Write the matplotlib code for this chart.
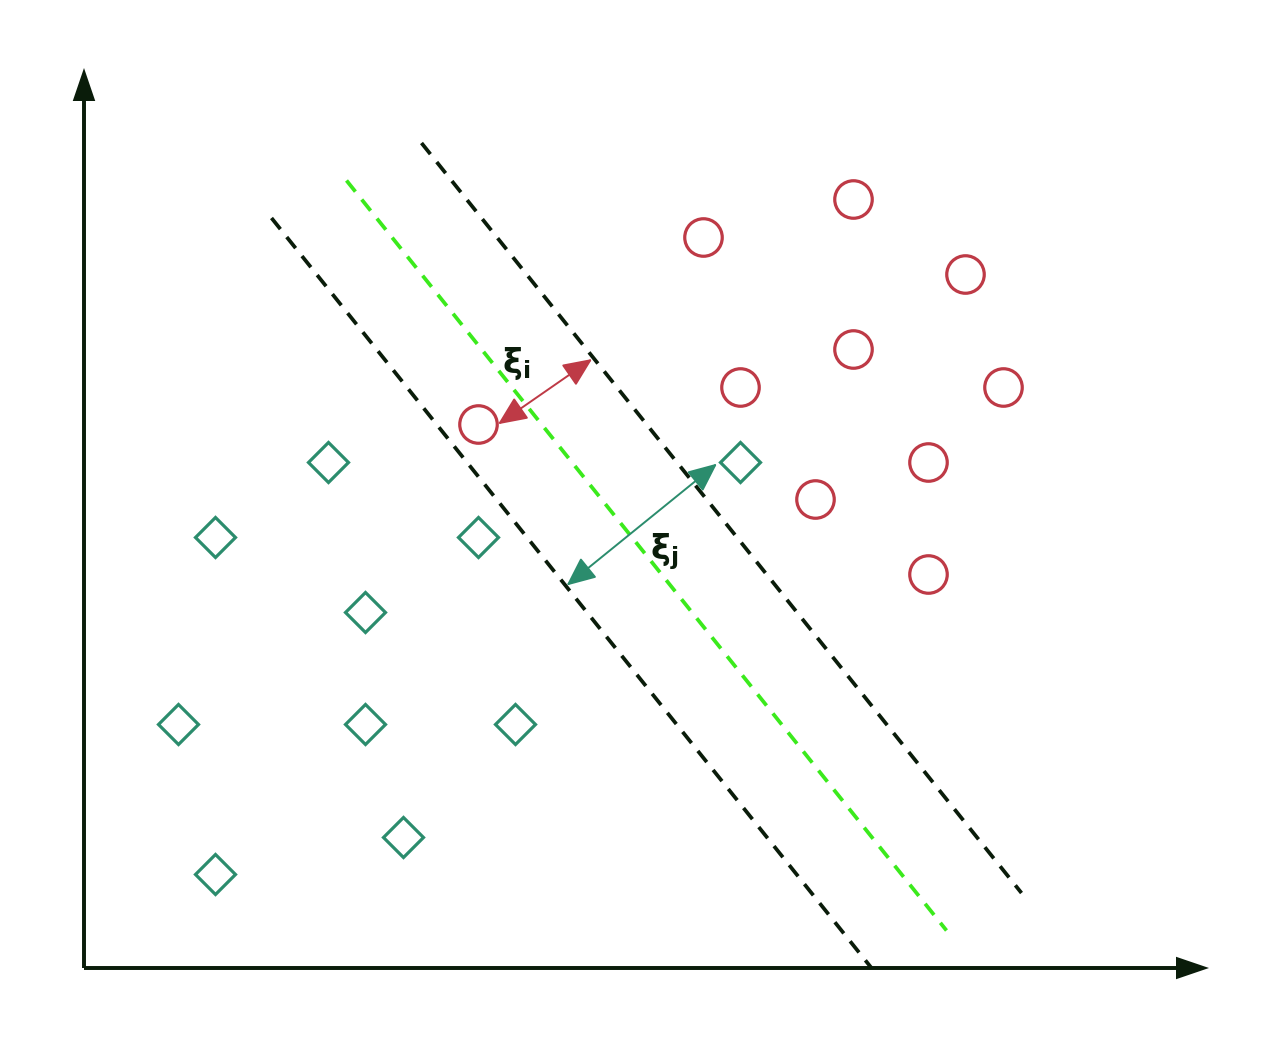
import matplotlib.pyplot as plt

# Data (grid units, origin at the axis corner)
diamond_x = [6.5, 3.5, 10.5, 7.5, 2.5, 7.5, 11.5, 8.5, 3.5, 17.5]
diamond_y = [13.5, 11.5, 11.5, 9.5, 6.5, 6.5, 6.5, 3.5, 2.5, 13.5]
circle_x = [20.5, 16.5, 23.5, 20.5, 17.5, 24.5, 10.5, 22.5, 19.5, 22.5]
circle_y = [20.5, 19.5, 18.5, 16.5, 15.5, 15.5, 14.5, 13.5, 12.5, 10.5]

# margin lines and separating hyperplane: (x0, y0) -> (x1, y1)
lower_margin = ([5, 21], [20, 0])
hyperplane = ([7, 23], [21, 1])
upper_margin = ([9, 25], [22, 2])

# slack arrows
xi_i = ((11.04, 14.5), (13.55, 16.24))
xi_j = ((16.88, 13.45), (12.87, 10.2))

RED = "#BE3A46"
GREEN = "#2B8C6D"
DARK = "#0A1C0A"
LIME = "#3BEA1C"

plt.rcParams["mathtext.fontset"] = "dejavusans"

fig = plt.figure(figsize=(12.77, 10.52), dpi=100)
ax = fig.add_axes([0, 0, 1, 1])
ax.set_xlim(-84 / 37.5, (1277 - 84) / 37.5)
ax.set_ylim(-(1052 - 968) / 37.5, 968 / 37.5)
ax.axis("off")

# axes with arrow heads
ax.arrow(0, 0, 0, 24, width=0.105, head_width=0.6, head_length=0.88,
         length_includes_head=True, color=DARK, lw=0)
ax.arrow(0, 0, 30, 0, width=0.105, head_width=0.6, head_length=0.88,
         length_includes_head=True, color=DARK, lw=0)

for (xs, ys), c in [(lower_margin, DARK), (hyperplane, LIME), (upper_margin, DARK)]:
    ln, = ax.plot(xs, ys, color=c, lw=2.7, solid_capstyle="butt")
    ln.set_dashes([3.8, 2.7])

ax.plot(diamond_x, diamond_y, linestyle="none", marker="D", markersize=20,
        markerfacecolor="none", markeredgecolor=GREEN, markeredgewidth=2.3)
ax.plot(circle_x, circle_y, linestyle="none", marker="o", markersize=27,
        markerfacecolor="none", markeredgecolor=RED, markeredgewidth=2.3)

for (p0, p1), c in [(xi_i, RED), (xi_j, GREEN)]:
    ax.annotate("", xy=p1, xytext=p0,
                arrowprops=dict(arrowstyle="<|-|>,head_length=0.9,head_width=0.4",
                                mutation_scale=20, color=c, lw=1.4,
                                shrinkA=0, shrinkB=0))

ax.text(11.15, 16.6, r"$\mathbf{\xi_i}$", fontsize=24, color=DARK,
        ha="left", va="top")
ax.text(15.1, 11.65, r"$\mathbf{\xi_j}$", fontsize=24, color=DARK,
        ha="left", va="top")

fig.savefig("out.png", dpi=100)
